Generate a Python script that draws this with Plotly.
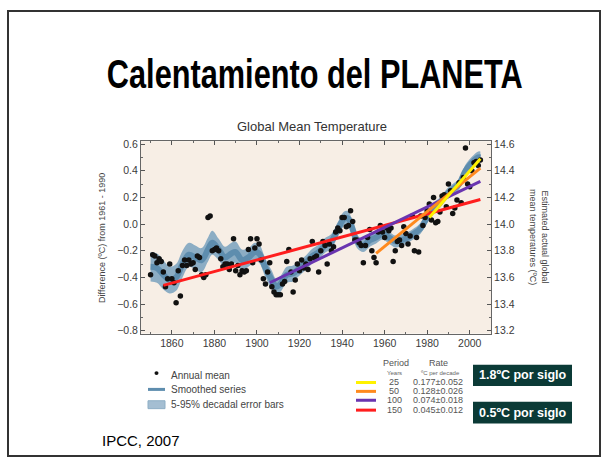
import plotly.graph_objects as go

W, H = 607, 461

# ---------------- data ----------------
years = list(range(1850, 2006))
annual = [
    -0.38, -0.23, -0.24, -0.29, -0.26, -0.28, -0.36, -0.47, -0.41, -0.30,
    -0.41, -0.44, -0.59, -0.35, -0.54, -0.31, -0.27, -0.31, -0.27, -0.30,
    -0.29, -0.34, -0.24, -0.25, -0.38, -0.40, -0.38, 0.05, 0.06, -0.20,
    -0.19, -0.18, -0.20, -0.26, -0.32, -0.30, -0.30, -0.34, -0.30, -0.11,
    -0.35, -0.31, -0.38, -0.35, -0.36, -0.35, -0.19, -0.11, -0.29, -0.18,
    -0.11, -0.15, -0.27, -0.41, -0.45, -0.36, -0.29, -0.47, -0.51, -0.53,
    -0.53, -0.53, -0.45, -0.43, -0.28, -0.19, -0.36, -0.51, -0.42, -0.30,
    -0.35, -0.27, -0.33, -0.30, -0.34, -0.26, -0.13, -0.25, -0.24, -0.36,
    -0.20, -0.13, -0.16, -0.30, -0.15, -0.20, -0.17, -0.06, -0.03, -0.05,
    0.05, 0.05, -0.02, -0.01, 0.10, 0.02, -0.12, -0.12, -0.14, -0.16,
    -0.29, -0.16, -0.10, -0.04, -0.20, -0.25, -0.29, -0.06, -0.01, -0.06,
    -0.10, -0.03, -0.05, -0.03, -0.28, -0.20, -0.13, -0.12, -0.16, -0.02,
    -0.07, -0.15, -0.09, 0.06, -0.20, -0.10, -0.21, 0.06, -0.01, 0.05,
    0.10, 0.15, 0.03, 0.20, 0.01, 0.02, 0.09, 0.21, 0.22, 0.13,
    0.30, 0.25, 0.08, 0.12, 0.18, 0.31, 0.16, 0.35, 0.57, 0.30,
    0.28, 0.40, 0.46, 0.47, 0.44, 0.48,
]

smooth_years = [1850, 1853, 1856, 1859, 1862, 1865, 1868, 1871, 1874, 1877,
                1879, 1882, 1885, 1888, 1890, 1893, 1896, 1899, 1901, 1904,
                1907, 1909, 1911, 1914, 1917, 1920, 1923, 1926, 1929, 1932,
                1935, 1938, 1941, 1943, 1945, 1947, 1950, 1953, 1956, 1959,
                1962, 1965, 1968, 1971, 1974, 1977, 1980, 1983, 1986, 1989,
                1992, 1995, 1998, 2001, 2004, 2005]
smooth_vals = [-0.32, -0.33, -0.38, -0.42, -0.40, -0.30, -0.23, -0.25, -0.27, -0.19,
               -0.14, -0.19, -0.25, -0.22, -0.21, -0.27, -0.25, -0.21, -0.22, -0.33,
               -0.42, -0.47, -0.45, -0.38, -0.37, -0.33, -0.29, -0.24, -0.21, -0.16,
               -0.13, -0.04, 0.04, 0.04, -0.04, -0.13, -0.16, -0.12, -0.10, -0.07,
               -0.10, -0.13, -0.12, -0.10, -0.07, -0.03, 0.05, 0.12, 0.16, 0.22,
               0.26, 0.30, 0.40, 0.46, 0.50, 0.50]
err_half = [0.11, 0.11, 0.11, 0.10, 0.10, 0.10, 0.09, 0.09, 0.09, 0.09,
            0.09, 0.08, 0.08, 0.08, 0.08, 0.08, 0.07, 0.07, 0.07, 0.07,
            0.07, 0.06, 0.06, 0.06, 0.06, 0.055, 0.055, 0.055, 0.055, 0.055,
            0.055, 0.055, 0.055, 0.055, 0.05, 0.05, 0.05, 0.05, 0.045, 0.045,
            0.045, 0.045, 0.045, 0.04, 0.04, 0.04, 0.04, 0.04, 0.04, 0.04,
            0.04, 0.04, 0.045, 0.045, 0.045, 0.045]

trend_periods = ["25", "50", "100", "150"]
trend_rates = ["0.177±0.052", "0.128±0.026", "0.074±0.018", "0.045±0.012"]
trend_start = [1981, 1956, 1906, 1856]
trend_end = [2005, 2005, 2005, 2005]
trend_v0 = [0.05, -0.22, -0.44, -0.46]
trend_v1 = [0.49, 0.42, 0.32, 0.185]
trend_colors = ["#FFF200", "#FF8A1E", "#6A35B0", "#FF1E1E"]

xticks = [1860, 1880, 1900, 1920, 1940, 1960, 1980, 2000]
yticks_left = [-0.8, -0.6, -0.4, -0.2, 0.0, 0.2, 0.4, 0.6]
yticks_right = [13.2, 13.4, 13.6, 13.8, 14.0, 14.2, 14.4, 14.6]

boxes = ["1.8ºC por siglo", "0.5ºC por siglo"]
main_title = "Calentamiento del PLANETA"

# ---------------- helpers ----------------
def px(x):
    return x / W

def py(y):
    return 1 - y / H

LEFT, RIGHT, TOP, BOTTOM = 141, 491, 140, 335
YR = [-0.822, 0.622]
OFFSET = 14.0

fig = go.Figure()

upper = [v + e for v, e in zip(smooth_vals, err_half)]
lower = [v - e for v, e in zip(smooth_vals, err_half)]

fig.add_trace(go.Scatter(x=smooth_years, y=upper, mode="lines",
                         line=dict(width=0, shape="spline", color="#8DAEC5"),
                         showlegend=False, hoverinfo="skip"))
fig.add_trace(go.Scatter(x=smooth_years, y=lower, mode="lines",
                         line=dict(width=0, shape="spline", color="#8DAEC5"),
                         fill="tonexty", fillcolor="#8CADC4",
                         showlegend=False, hoverinfo="skip"))
fig.add_trace(go.Scatter(x=smooth_years, y=smooth_vals, mode="lines",
                         line=dict(width=6, shape="spline", color="#5E8DAE"),
                         showlegend=False, hoverinfo="skip"))
fig.add_trace(go.Scatter(x=years, y=annual, mode="markers",
                         marker=dict(size=5.5, color="#111111"),
                         showlegend=False, hoverinfo="skip"))
for i in [3, 2, 1, 0]:
    fig.add_trace(go.Scatter(x=[trend_start[i], trend_end[i]],
                             y=[trend_v0[i], trend_v1[i]], mode="lines",
                             line=dict(width=3, color=trend_colors[i]),
                             showlegend=False, hoverinfo="skip"))
# invisible trace for right axis
fig.add_trace(go.Scatter(x=[xticks[0]], y=[yticks_right[0]], yaxis="y2",
                         mode="markers", marker=dict(opacity=0),
                         showlegend=False, hoverinfo="skip"))

tickfont = dict(family="Liberation Sans, Arial, sans-serif", size=10.5, color="#3A3A3A")

fig.update_layout(
    width=W, height=H,
    margin=dict(l=0, r=0, t=0, b=0),
    paper_bgcolor="white",
    plot_bgcolor="#F7EEE5",
    showlegend=False,
    xaxis=dict(domain=[px(LEFT), px(RIGHT)], range=[1845.5, 2010],
               tickvals=xticks, ticks="inside", ticklen=4, tickcolor="#555555",
               showline=True, linecolor="#666666", linewidth=1, mirror="ticks",
               showgrid=False, zeroline=False, tickfont=tickfont,
               minor=dict(ticks="inside", dtick=10, ticklen=2, tickcolor="#666666", showgrid=False)),
    yaxis=dict(domain=[py(BOTTOM), py(TOP)], range=YR,
               tickvals=yticks_left, tickformat=".1f", ticks="inside", ticklen=4,
               tickcolor="#555555", showline=True, linecolor="#666666", linewidth=1,
               showgrid=False, zeroline=False, tickfont=tickfont,
               minor=dict(ticks="inside", dtick=0.1, ticklen=2, tickcolor="#666666", showgrid=False)),
    yaxis2=dict(overlaying="y", side="right", anchor="x",
                range=[YR[0] + OFFSET, YR[1] + OFFSET],
                tickvals=yticks_right, tickformat=".1f", ticks="inside", ticklen=4,
                tickcolor="#555555", showline=True, linecolor="#666666", linewidth=1,
                showgrid=False, zeroline=False, tickfont=tickfont,
                minor=dict(ticks="inside", dtick=0.1, ticklen=2, tickcolor="#666666", showgrid=False)),
)

shapes = []
annotations = []

# outer frame
shapes.append(dict(type="rect", xref="paper", yref="paper",
                   x0=px(8), x1=px(600), y0=py(459), y1=py(8),
                   line=dict(color="#333333", width=2)))

# titles
annotations.append(dict(text=main_title, x=px(315), y=py(72),
                        xref="paper", yref="paper", showarrow=False,
                        xanchor="center", yanchor="middle",
                        font=dict(family="Liberation Sans, Arial", weight=700,
                                  size=40, color="black")))
annotations.append(dict(text="Global Mean Temperature", x=px(312), y=py(125),
                        xref="paper", yref="paper", showarrow=False,
                        xanchor="center", yanchor="middle",
                        font=dict(family="Liberation Sans, Arial", size=13, color="#333333")))
annotations.append(dict(text="Difference (ºC) from 1961 - 1990", x=px(102), y=py(238),
                        xref="paper", yref="paper", showarrow=False, textangle=-90,
                        xanchor="center", yanchor="middle",
                        font=dict(family="Liberation Sans, Arial", size=9, color="#444444")))
annotations.append(dict(text="Estimated actual global<br>mean temperatures (ºC)", x=px(539), y=py(237),
                        xref="paper", yref="paper", showarrow=False, textangle=90,
                        xanchor="center", yanchor="middle",
                        font=dict(family="Liberation Sans, Arial", size=9, color="#444444")))

# left legend
leg_font = dict(family="Liberation Sans, Arial", size=10, color="#444444")
shapes.append(dict(type="circle", xref="paper", yref="paper",
                   x0=px(154.5), x1=px(158.5), y0=py(377), y1=py(373),
                   fillcolor="#111111", line=dict(width=0)))
annotations.append(dict(text="Annual mean", x=px(169), y=py(377), xref="paper", yref="paper",
                        showarrow=False, xanchor="left", yanchor="middle", font=leg_font))
shapes.append(dict(type="line", xref="paper", yref="paper",
                   x0=px(148), x1=px(165), y0=py(391.5), y1=py(391.5),
                   line=dict(color="#5E8DAE", width=3)))
annotations.append(dict(text="Smoothed series", x=px(169), y=py(391.5), xref="paper", yref="paper",
                        showarrow=False, xanchor="left", yanchor="middle", font=leg_font))
shapes.append(dict(type="rect", xref="paper", yref="paper",
                   x0=px(148), x1=px(165), y0=py(411), y1=py(403),
                   fillcolor="#A4BED2", line=dict(color="#8DAEC5", width=1)))
annotations.append(dict(text="5-95% decadal error bars", x=px(169), y=py(407), xref="paper", yref="paper",
                        showarrow=False, xanchor="left", yanchor="middle", font=leg_font))

# right legend (trend table)
tab_font = dict(family="Liberation Sans, Arial", size=9, color="#555555")
small_font = dict(family="Liberation Sans, Arial", size=6, color="#666666")
annotations.append(dict(text="Period", x=px(396), y=py(365), xref="paper", yref="paper",
                        showarrow=False, xanchor="center", yanchor="middle", font=tab_font))
annotations.append(dict(text="Rate", x=px(438), y=py(365), xref="paper", yref="paper",
                        showarrow=False, xanchor="center", yanchor="middle", font=tab_font))
annotations.append(dict(text="Years", x=px(394), y=py(374.5), xref="paper", yref="paper",
                        showarrow=False, xanchor="center", yanchor="middle", font=small_font))
annotations.append(dict(text="ºC per decade", x=px(440), y=py(374.5), xref="paper", yref="paper",
                        showarrow=False, xanchor="center", yanchor="middle", font=small_font))
row_y = [384.5, 393.5, 402.5, 412.5]
for i in range(4):
    shapes.append(dict(type="line", xref="paper", yref="paper",
                       x0=px(356), x1=px(376), y0=py(row_y[i]), y1=py(row_y[i]),
                       line=dict(color=trend_colors[i], width=3)))
    annotations.append(dict(text=trend_periods[i], x=px(394), y=py(row_y[i]), xref="paper", yref="paper",
                            showarrow=False, xanchor="center", yanchor="middle", font=tab_font))
    annotations.append(dict(text=trend_rates[i], x=px(438), y=py(row_y[i]), xref="paper", yref="paper",
                            showarrow=False, xanchor="center", yanchor="middle", font=tab_font))

# boxes
box_y = [(366.5, 388), (404, 426)]
for (y0, y1), txt in zip(box_y, boxes):
    shapes.append(dict(type="rect", xref="paper", yref="paper",
                       x0=px(473), x1=px(572), y0=py(y1), y1=py(y0),
                       fillcolor="#0B3A36", line=dict(width=0)))
    annotations.append(dict(text="<b>" + txt + "</b>", x=px(522.5), y=py((y0 + y1) / 2),
                            xref="paper", yref="paper", showarrow=False,
                            xanchor="center", yanchor="middle",
                            font=dict(family="Liberation Sans, Arial", size=12.5, color="white")))

annotations.append(dict(text="IPCC, 2007", x=px(100), y=py(443), xref="paper", yref="paper",
                        showarrow=False, xanchor="left", yanchor="middle",
                        font=dict(family="Liberation Sans, Arial", size=15, color="black")))

fig.update_layout(shapes=shapes, annotations=annotations)

post = """
document.body.style.margin='0';document.body.style.padding='0';document.body.style.overflow='hidden';
function narrowTitle(){
  document.querySelectorAll('text.annotation-text').forEach(function(t){
    if(t.textContent.indexOf('Calentamiento')===0 && !t.getAttribute('data-narrow')){
      var bb = t.getBBox();
      if(!bb.width) return;
      var cx = bb.x + bb.width/2;
      var s = 416 / bb.width;
      t.setAttribute('transform', 'translate(' + cx + ',0) scale(' + s + ',1) translate(' + (-cx) + ',0)');
      t.setAttribute('data-narrow', '1');
    }
  });
}
narrowTitle(); setTimeout(narrowTitle, 30); setTimeout(narrowTitle, 200);
"""

fig.write_html("out.html", config={"displayModeBar": False}, post_script=post)
